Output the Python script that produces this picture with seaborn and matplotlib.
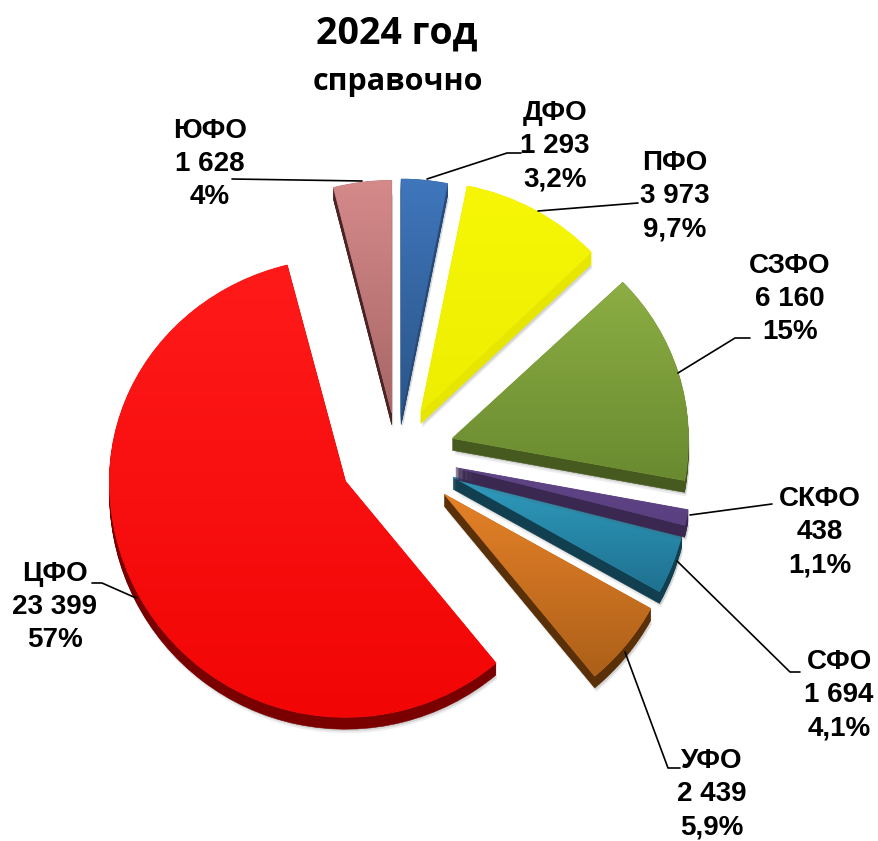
import numpy as np
import matplotlib
matplotlib.use("Agg")
import matplotlib.pyplot as plt
from matplotlib.patches import PathPatch
from matplotlib.path import Path
from matplotlib.transforms import Affine2D
from matplotlib.colors import to_rgb
import seaborn as sns

# ---- data ----
regions = ["ДФО", "ПФО", "СЗФО", "СКФО", "СФО", "УФО", "ЦФО", "ЮФО"]
values = [1293, 3973, 6160, 438, 1694, 2439, 23399, 1628]
value_labels = ["1 293", "3 973", "6 160", "438", "1 694", "2 439", "23 399", "1 628"]
share_labels = ["3,2%", "9,7%", "15%", "1,1%", "4,1%", "5,9%", "57%", "4%"]
title_main = "2024 год"
title_sub = "справочно"

# ---- style ----
explode = [0.18, 0.21, 0.245, 0.255, 0.255, 0.26, 0.245, 0.18]
squash = [0.99, 0.975, 0.955, 1.0, 1.0, 1.0, 0.945, 0.985]
top_colors = sns.color_palette(["#3F76BC", "#F6F606", "#8CAE43", "#5F4585", "#2F9CBF", "#E58128", "#FF1A1A", "#D58A8A"])
low_colors = sns.color_palette(["#2A5588", "#EEEE02", "#6A8A30", "#5A4080", "#1F7190", "#AD6019", "#F20505", "#A86666"])
rim_colors = sns.color_palette(["#254A7A", "#E6E600", "#46591E", "#3A2850", "#123F50", "#5A3008", "#7A0000", "#4A2424"])
draw_order = [7, 6, 5, 4, 3, 2, 1, 0]

W, H = 879, 841
R_PX = 236.0
CX, CY = 397.0, 455.0
DEPTH_PX = 12

sns.set_theme(style="white")
plt.rcParams["font.family"] = ["Liberation Sans", "DejaVu Sans"]

fig = plt.figure(figsize=(W / 100, H / 100), dpi=100, facecolor="white")
ax = fig.add_axes([0, 0, 1, 1])
px = Affine2D().scale(1, -1).translate(0, H)

pie_args = dict(explode=explode, startangle=90, counterclock=False, radius=1.0)


def flatten(wedge, s, **kw):
    """Replace a pie wedge with the same outline, flattened above its apex (tilted-pie look)."""
    p = wedge.get_path()
    v = np.array(p.vertices, dtype=float)
    cy = wedge.center[1]
    up = v[:, 1] > cy
    v[up, 1] = cy + (v[up, 1] - cy) * s
    wedge.set_visible(False)
    patch = PathPatch(Path(v, p.codes), **kw)
    ax.add_patch(patch)
    return patch


# soft shadow
for off, a in [(DEPTH_PX + 4, 0.10), (DEPTH_PX + 2, 0.16)]:
    wedges, _ = ax.pie(values, center=(0.006, -off / R_PX), colors=["#555555"] * 8, **pie_args)
    for i, w in enumerate(wedges):
        flatten(w, squash[i], facecolor="#555555", edgecolor="none", alpha=a,
                zorder=draw_order.index(i) * 10 + 1)

# extruded rim
for d in range(DEPTH_PX, 0, -1):
    wedges, _ = ax.pie(values, center=(0, -d / R_PX), colors=rim_colors, **pie_args)
    for i, w in enumerate(wedges):
        flatten(w, squash[i], facecolor=rim_colors[i], edgecolor=rim_colors[i], linewidth=0.4,
                zorder=draw_order.index(i) * 10 + 2)

# top faces with vertical gradient
wedges, _ = ax.pie(values, center=(0, 0), colors=top_colors, **pie_args)
for i, w in enumerate(wedges):
    z = draw_order.index(i) * 10
    mid = tuple((np.array(to_rgb(top_colors[i])) + np.array(to_rgb(low_colors[i]))) / 2)
    face = flatten(w, squash[i], facecolor=mid, edgecolor=mid, linewidth=0.6, zorder=z + 3)
    box = face.get_path().get_extents()
    t = np.linspace(0, 1, 128)[:, None, None]
    grad = np.array(to_rgb(top_colors[i]))[None, None, :] * (1 - t) + np.array(to_rgb(low_colors[i]))[None, None, :] * t
    im = ax.imshow(grad, extent=(box.x0, box.x1, box.y0, box.y1), origin="upper",
                   aspect="auto", interpolation="bilinear", zorder=z + 4)
    im.set_clip_path(face)

ax.set_aspect("equal")
ax.set_xlim(-CX / R_PX, (W - CX) / R_PX)
ax.set_ylim((CY - H) / R_PX, CY / R_PX)
ax.axis("off")

# ---- layout of labels and leader lines (pixels) ----
label_xy = [(555, 146), (675, 196), (790, 299), (820, 532), (839, 695), (712, 794), (55, 607), (210, 164)]
leaders = [
    [(521, 153), (507, 153), (427, 179)],
    [(638, 203), (538, 211)],
    [(750, 338), (735, 338), (678, 373)],
    [(772, 504), (690, 515)],
    [(800, 672), (790, 672), (677, 561)],
    [(680, 768), (668, 768), (625, 652)],
    [(92, 583), (102, 583), (136, 598)],
    [(232, 179), (362, 181)],
]
for pts in leaders:
    xs, ys = zip(*pts)
    ax.plot(xs, ys, color="black", lw=1.2, transform=px, zorder=300, clip_on=False)

for name, val, share, (x, y) in zip(regions, value_labels, share_labels, label_xy):
    ax.text(x, y, f"{name}\n{val}\n{share}", transform=px, ha="center", va="center",
            fontsize=20, fontweight="bold", color="black", linespacing=1.36, zorder=400,
            family="Liberation Sans")

ax.text(397, 34, title_main, transform=px, ha="center", va="center", fontsize=27,
        fontweight="bold", family="Open Sans", color="black", zorder=400)
ax.text(398, 82, title_sub, transform=px, ha="center", va="center", fontsize=22,
        fontweight="bold", family="Open Sans", color="black", zorder=400)

fig.savefig("out.png", dpi=100, facecolor="white")
